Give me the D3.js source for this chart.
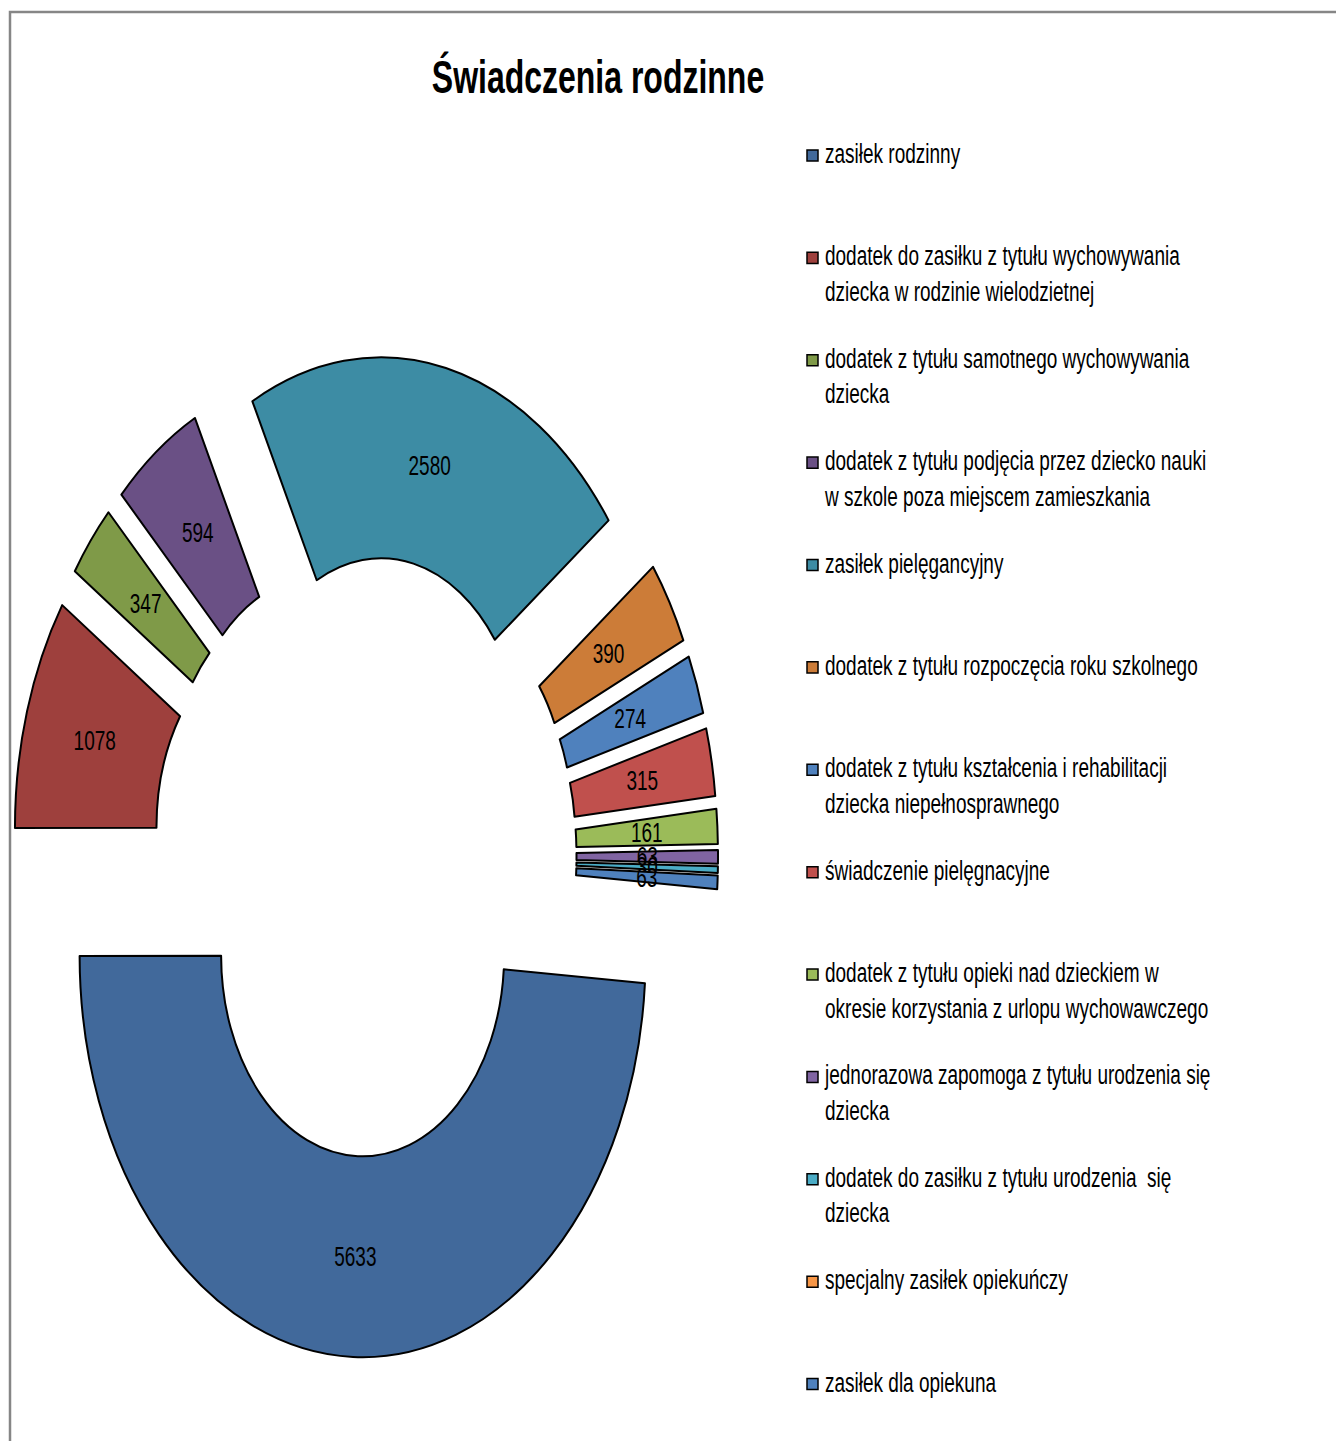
<!DOCTYPE html>
<html>
<head>
<meta charset="utf-8">
<script src="https://cdnjs.cloudflare.com/ajax/libs/d3/7.8.5/d3.min.js"></script>
<style>
  html, body { margin: 0; padding: 0; background: #fff; }
  text { font-family: "Liberation Sans", Arial, sans-serif; }
</style>
</head>
<body>
<svg id="chart" width="1336" height="1441"></svg>
<script>
(function() {
  var title = 'Świadczenia rodzinne';

  var categories = [
    ['zasiłek rodzinny'],
    ['dodatek do zasiłku z tytułu wychowywania', 'dziecka w rodzinie wielodzietnej'],
    ['dodatek z tytułu samotnego wychowywania', 'dziecka'],
    ['dodatek z tytułu podjęcia przez dziecko nauki', 'w szkole poza miejscem zamieszkania'],
    ['zasiłek pielęgancyjny'],
    ['dodatek z tytułu rozpoczęcia roku szkolnego'],
    ['dodatek z tytułu kształcenia i rehabilitacji', 'dziecka niepełnosprawnego'],
    ['świadczenie pielęgnacyjne'],
    ['dodatek z tytułu opieki nad dzieckiem w', 'okresie korzystania z urlopu wychowawczego'],
    ['jednorazowa zapomoga z tytułu urodzenia się', 'dziecka'],
    ['dodatek do zasiłku z tytułu urodzenia  się', 'dziecka'],
    ['specjalny zasiłek opiekuńczy'],
    ['zasiłek dla opiekuna']
  ];

  var values = [5633, 1078, 347, 594, 2580, 390, 274, 315, 161, 63, 30, 0, 63];

  var colors = ['#41699b', '#9e403d', '#7f9a48', '#6a5085', '#3d8ca4', '#cc7c38',
                '#4f81bd', '#c0504d', '#9bbb59', '#8064a2', '#4bacc6', '#f79646', '#4f81bd'];

  var data = categories.map(function(c, i) {
    return { lines: c, value: values[i], color: colors[i] };
  });

  // the original picture is stretched vertically, so draw round and scale
  var sy = 1.42,
      cx = 365, cy = 602.8,
      outerR = 283, innerR = 141.5,
      explode = 70,
      firstAngle = 94;

  var svg = d3.select('#chart');

  svg.append('path')
    .attr('d', 'M10,1441 V12 H1336')
    .attr('fill', 'none')
    .attr('stroke', '#868686')
    .attr('stroke-width', 2.5);

  var g = svg.append('g').attr('transform', 'scale(1,' + sy + ')');

  g.append('text')
    .attr('x', 598)
    .attr('y', 65.5)
    .attr('text-anchor', 'middle')
    .attr('font-weight', 'bold')
    .attr('font-size', 32)
    .text(title);

  var a0 = firstAngle * Math.PI / 180;
  var pie = d3.pie().sort(null).value(function(d) { return d.value; })
    .startAngle(a0).endAngle(a0 + 2 * Math.PI);
  var arc = d3.arc().innerRadius(innerR).outerRadius(outerR);
  var labelArc = d3.arc().innerRadius((innerR + outerR) / 2).outerRadius((innerR + outerR) / 2);

  var arcs = pie(data).filter(function(d) { return d.data.value > 0; });

  var slices = g.append('g')
    .attr('transform', 'translate(' + cx + ',' + cy + ')')
    .selectAll('g.slice')
    .data(arcs)
    .enter().append('g')
    .attr('class', 'slice')
    .attr('transform', function(d) {
      var m = (d.startAngle + d.endAngle) / 2;
      return 'translate(' + (Math.sin(m) * explode) + ',' + (-Math.cos(m) * explode) + ')';
    });

  slices.append('path')
    .attr('d', arc)
    .attr('fill', function(d) { return d.data.color; })
    .attr('stroke', '#000')
    .attr('stroke-width', 2)
    .attr('vector-effect', 'non-scaling-stroke')
    .attr('stroke-linejoin', 'round');

  slices.append('text')
    .attr('transform', function(d) { return 'translate(' + labelArc.centroid(d) + ')'; })
    .attr('text-anchor', 'middle')
    .attr('dy', '0.35em')
    .attr('font-size', 19)
    .attr('fill', '#000')
    .text(function(d) { return d.data.value; });

  // legend
  var legend = g.append('g').attr('transform', 'translate(807,105.6)');
  var items = legend.selectAll('g.item')
    .data(data)
    .enter().append('g')
    .attr('class', 'item')
    .attr('transform', function(d, i) { return 'translate(0,' + (i * 72.1) + ')'; });

  items.append('rect')
    .attr('width', 11)
    .attr('height', 7.8)
    .attr('fill', function(d) { return d.color; })
    .attr('stroke', '#000')
    .attr('stroke-width', 1.5)
    .attr('vector-effect', 'non-scaling-stroke');

  items.append('text')
    .attr('x', 18)
    .attr('y', 9.2)
    .attr('font-size', 19)
    .attr('fill', '#000')
    .style('white-space', 'pre')
    .selectAll('tspan')
    .data(function(d) { return d.lines; })
    .enter().append('tspan')
    .attr('x', 18)
    .attr('dy', function(d, i) { return i === 0 ? 0 : 25; })
    .text(function(d) { return d; });
})();
</script>
</body>
</html>
